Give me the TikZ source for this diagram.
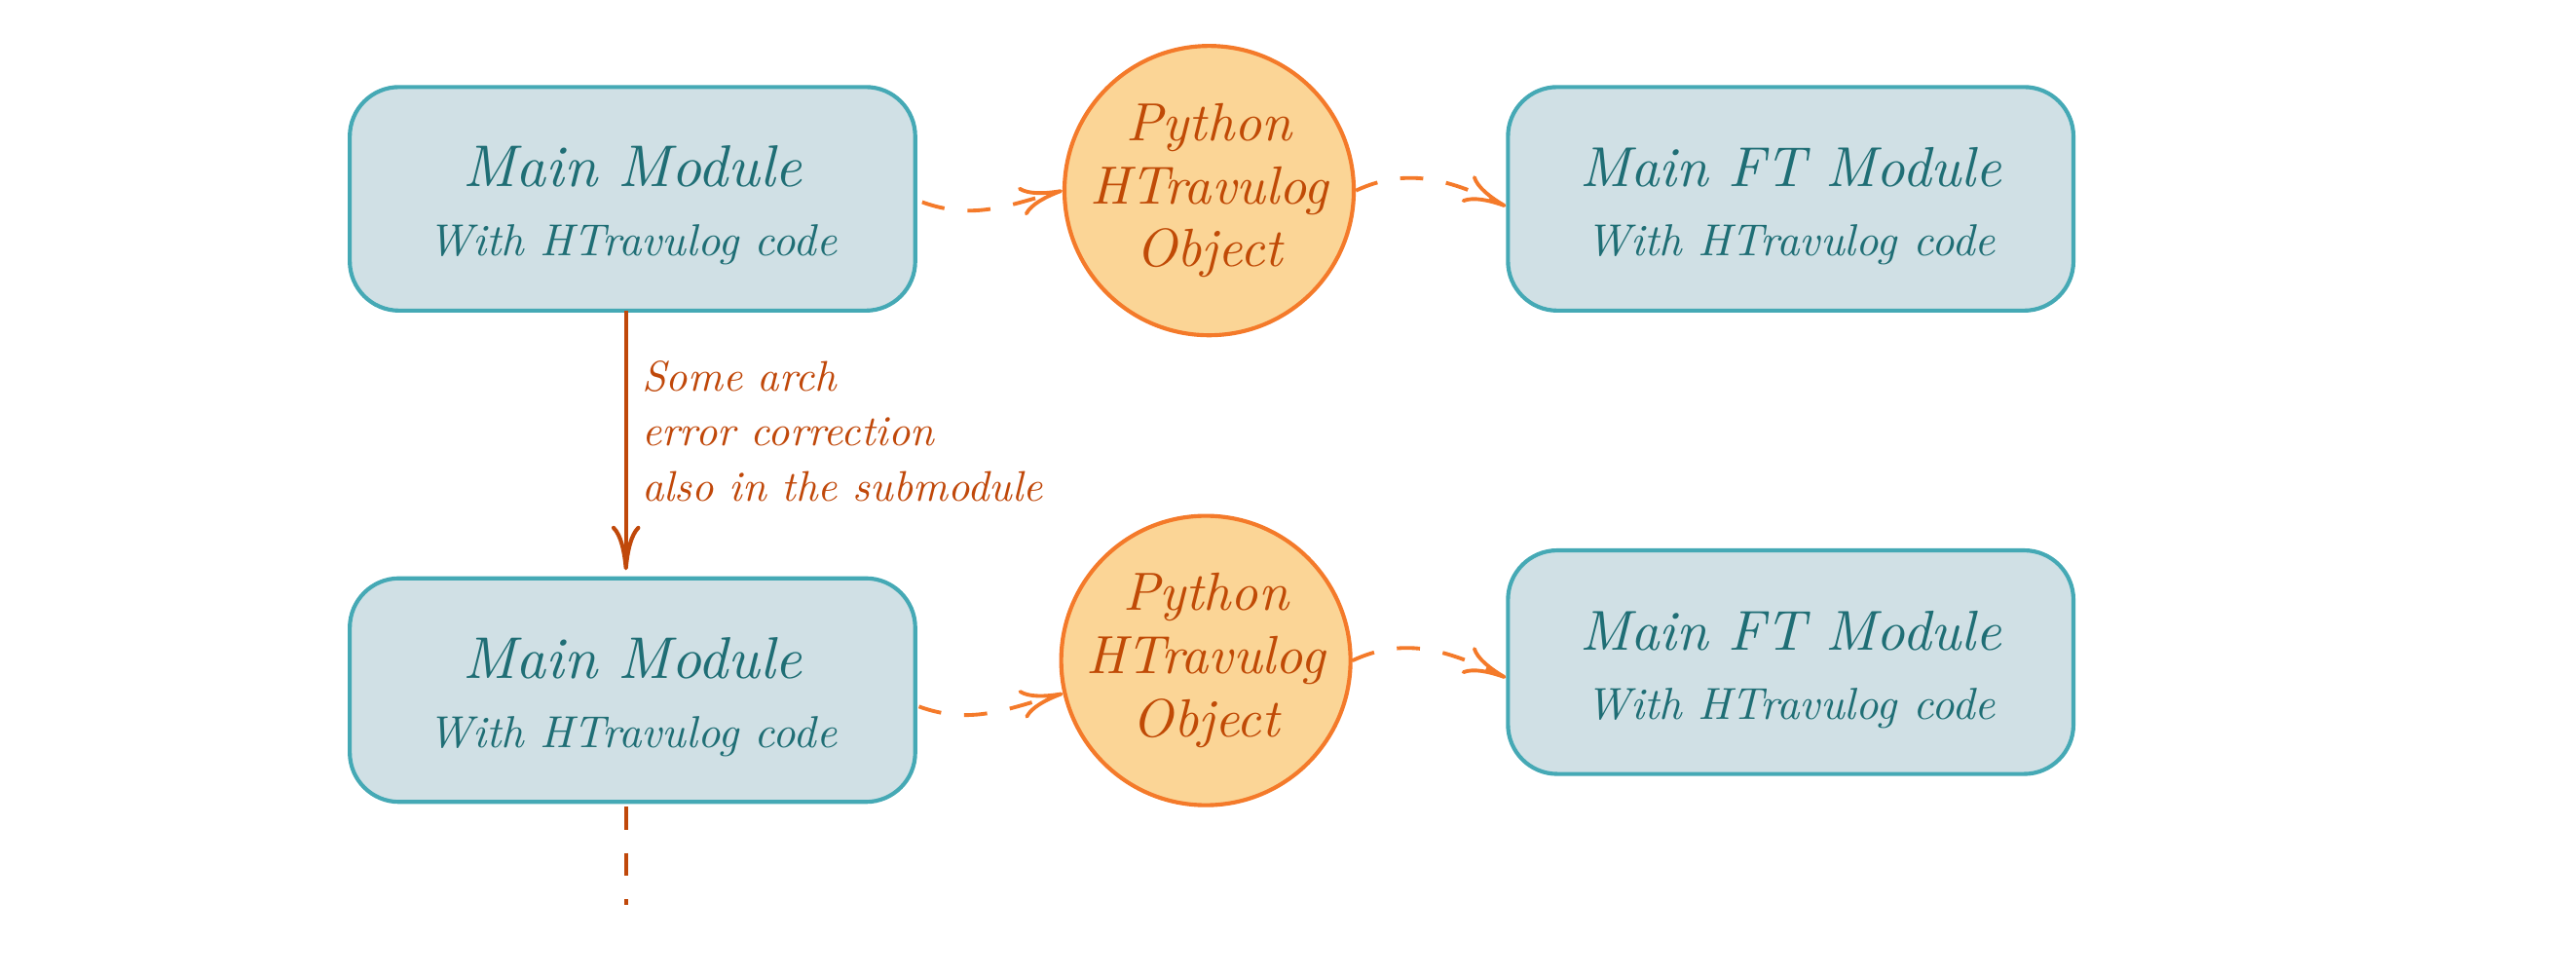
\documentclass[tikz,border=0pt]{standalone}
\usepackage{fontspec}
\setmainfont{lmroman10-regular.otf}[ItalicFont=lmroman10-italic.otf]
\usetikzlibrary{arrows.meta}
\definecolor{boxfill}{HTML}{D0E0E5}
\definecolor{boxdraw}{HTML}{45A9B5}
\definecolor{boxtext}{HTML}{1F6E75}
\definecolor{cfill}{HTML}{FBD596}
\definecolor{cdraw}{HTML}{F47A2A}
\definecolor{ctext}{HTML}{C04A06}
\definecolor{arrcol}{HTML}{C0480A}
\newcommand{\modtext}[3]{{\fontsize{#1}{12}\selectfont\rule{0pt}{9.4pt}#2}\\{\fontsize{7.75}{12.5}\selectfont #3}}
\begin{document}
\begin{tikzpicture}[x=0.01cm,y=-0.01cm,
  modbox/.style={draw=boxdraw, fill=boxfill, line width=0.7pt, rounded corners=0.3cm,
    minimum width=3.44cm, minimum height=1.36cm, inner sep=0pt, text=boxtext,
    align=center, font=\itshape},
  pyobj/.style={circle, draw=cdraw, fill=cfill, line width=0.7pt, minimum size=1.76cm,
    inner sep=-4pt, text=ctext, align=center, font=\itshape\fontsize{9.3}{10.9}\selectfont},
  flow/.style={draw=cdraw, line width=0.65pt, dash pattern=on 4pt off 4pt,
    -{To[length=2.6mm,width=1.8mm]}},
  corr/.style={draw=arrcol, line width=0.7pt, -{To[length=2.7mm,width=1.75mm]}},
  lbl/.style={text=arrcol, font=\itshape\fontsize{7.4}{9.5}\selectfont, align=left, inner sep=0pt}
]
\useasboundingbox (0,0) rectangle (1568,594);
\node[modbox] (m1) at (385,121) {\modtext{10.2}{Main Module}{With HTravulog code}};
\node[pyobj] (c1) at (736,116) {Python\\HTravulog\\Object};
\node[modbox] (f1) at (1090,121) {\modtext{9.75}{Main FT Module}{With HTravulog code}};
\node[modbox] (m2) at (385,420) {\modtext{10.2}{Main Module}{With HTravulog code}};
\node[pyobj] (c2) at (734,402) {Python\\HTravulog\\Object};
\node[modbox] (f2) at (1090,403) {\modtext{9.75}{Main FT Module}{With HTravulog code}};
\coordinate (m1s) at (381,189);
\coordinate (m2n) at (381,347);
\coordinate (m2s) at (381,491);
\coordinate (tail) at (381,551);
\draw[corr] (m1s) -- (m2n);
\node[lbl, anchor=north west] (note) at (390,219) {Some arch\\error correction\\also in the submodule};
\draw[draw=arrcol, line width=0.7pt, dash pattern=on 4pt off 4pt] (m2s) -- (tail);
\draw[flow] (m1.east) ++(3,2) to[out=-20,in=195] (c1.west);
\draw[flow] (c1.east) to[out=25,in=155] ([yshift=-1.3pt]f1.west);
\draw[flow] (m2.east) ++(1,10) to[out=-20,in=195] (c2.193);
\draw[flow] (c2.east) to[out=25,in=155] ([yshift=-2.7pt]f2.west);
\end{tikzpicture}
\end{document}
